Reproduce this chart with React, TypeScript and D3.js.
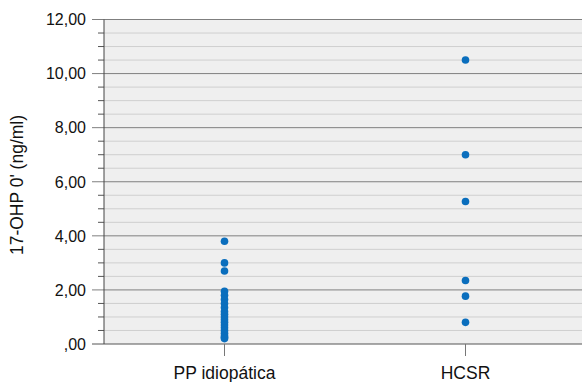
import React from "react";
import * as d3 from "d3";

const categories = ["PP idiopática", "HCSR"];
const ppValues = [3.8, 3.0, 2.7, 1.95, 1.8, 1.65, 1.5, 1.35, 1.2, 1.1, 1.0, 0.9, 0.8, 0.7, 0.6, 0.5, 0.4, 0.3, 0.25, 0.2];
const hcsrValues = [10.5, 7.0, 5.27, 2.35, 1.77, 0.8];
const majorTicks = [0, 2, 4, 6, 8, 10, 12];
const minorTicks = d3.range(0, 12.01, 0.5).filter((v) => v % 2 !== 0);
const yTitle = "17-OHP 0' (ng/ml)";

const W = 582, H = 382;
const left = 104, right = 582, top = 19.5, bottom = 344;

export default function App() {
  const x = d3.scalePoint<string>().domain(categories).range([left, 586]).padding(0.5);
  const y = d3.scaleLinear().domain([0, 12]).range([bottom, top]);
  const fmt = (v: number) => (v === 0 ? ",00" : v.toFixed(2).replace(".", ","));
  const cx = (c: string) => x(c) as number;
  const series = [
    { cat: categories[0], vals: ppValues },
    { cat: categories[1], vals: hcsrValues },
  ];
  return (
    <svg width={W} height={H} style={{ position: "absolute", left: 0, top: 0, fontFamily: "Liberation Sans, Arial, sans-serif" }}>
      <rect x={left} y={top} width={right - left} height={bottom - top} fill="#efefef" />
      {minorTicks.map((v) => (
        <g key={"m" + v}>
          <line x1={left} x2={right} y1={y(v)} y2={y(v)} stroke="#cfcfcf" strokeWidth={1} />
          <line x1={98} x2={left} y1={y(v)} y2={y(v)} stroke="#555" strokeWidth={1} />
        </g>
      ))}
      {majorTicks.map((v) => (
        <g key={"M" + v}>
          <line x1={92} x2={right} y1={y(v)} y2={y(v)} stroke={v === 0 ? "#555" : "#7f7f7f"} strokeWidth={1} />
          <text x={86} y={y(v)} dy="0.36em" textAnchor="end" fontSize={16} fill="#111">
            {fmt(v)}
          </text>
        </g>
      ))}
      <line x1={left} x2={left} y1={top} y2={bottom} stroke="#444" strokeWidth={1} />
      {categories.map((c) => (
        <g key={c}>
          <line x1={cx(c)} x2={cx(c)} y1={bottom} y2={356} stroke="#777" strokeWidth={1} />
          <text x={cx(c)} y={379} textAnchor="middle" fontSize={17.5} fill="#111">
            {c}
          </text>
        </g>
      ))}
      {series.map((s) =>
        s.vals.map((v, i) => (
          <circle key={s.cat + i} cx={cx(s.cat)} cy={y(v)} r={3.8} fill="#0a6ebd" />
        ))
      )}
      <text transform={`translate(23,${185}) rotate(-90)`} textAnchor="middle" fontSize={17.5} fill="#111">
        {yTitle}
      </text>
    </svg>
  );
}
